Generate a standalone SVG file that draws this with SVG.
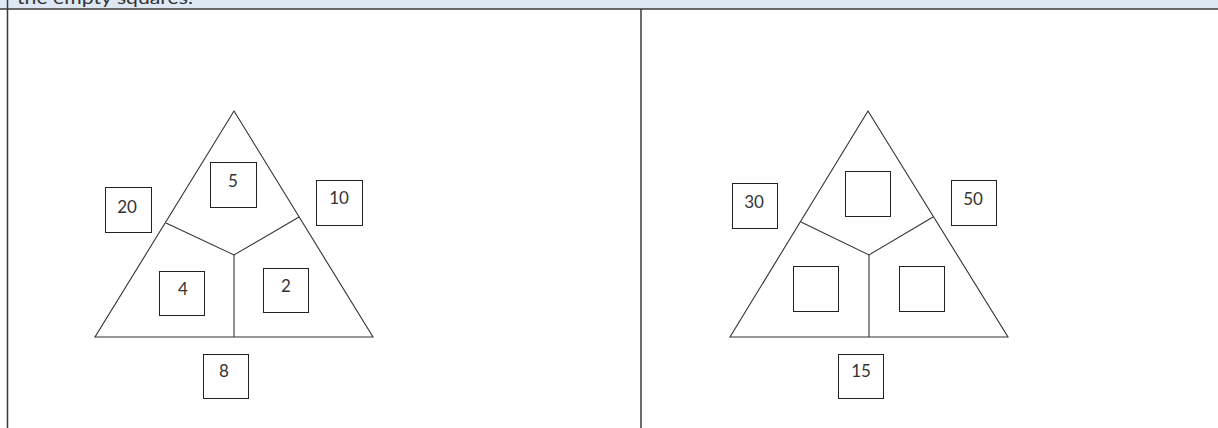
<svg xmlns="http://www.w3.org/2000/svg" width="1218" height="428" viewBox="0 0 1218 428">
<style>
.tri{fill:none;stroke:#333;stroke-width:1.1}
.box{fill:#fff;stroke:#222;stroke-width:1}
.num{font-family:"Lato","Noto Sans",sans-serif;font-size:17px;fill:#333;text-anchor:middle}
.hdr{font-family:"Lato","Noto Sans",sans-serif;font-size:18px;fill:#333}
.frame{stroke:#3a3a3a;stroke-width:1.5;fill:none}
</style>
<rect x="0" y="0" width="1218" height="428" fill="#fff"/>
<rect x="0" y="0" width="1218" height="9" fill="#dde8f4"/>
<text class="hdr" x="17" y="4" textLength="176" lengthAdjust="spacingAndGlyphs">the empty squares.</text>
<g id="frame">
<line class="frame" x1="7.5" y1="0" x2="7.5" y2="428"/>
<line class="frame" x1="0" y1="9" x2="1218" y2="9"/>
<line class="frame" x1="641" y1="9" x2="641" y2="428"/>
</g>
<g id="connectors">
<polygon class="tri" points="234,111 95,337 373,337"/>
<polyline class="tri" points="166,223 234,255 299,217"/>
<line class="tri" x1="234" y1="255" x2="234" y2="337"/>
<polygon class="tri" points="868,111 730,337 1008,337"/>
<polyline class="tri" points="801,222 869,255 933,217"/>
<line class="tri" x1="869" y1="255" x2="869" y2="337"/>
</g>
<g id="n5"><rect class="box" x="210.5" y="162.5" width="46" height="45"/><text class="num" x="233" y="187">5</text></g>
<g id="n20"><rect class="box" x="105.5" y="187.5" width="46" height="45"/><text class="num" x="127" y="213">20</text></g>
<g id="n10"><rect class="box" x="316.5" y="180.5" width="46" height="45"/><text class="num" x="339" y="204">10</text></g>
<g id="n4"><rect class="box" x="159.5" y="271.5" width="45" height="44"/><text class="num" x="183" y="295">4</text></g>
<g id="n2"><rect class="box" x="263.5" y="268.5" width="45" height="44"/><text class="num" x="286" y="292">2</text></g>
<g id="n8"><rect class="box" x="203.5" y="354.5" width="45" height="44"/><text class="num" x="224" y="377">8</text></g>
<g id="m-top"><rect class="box" x="845.5" y="171.5" width="45" height="45"/></g>
<g id="n30"><rect class="box" x="732.5" y="183.5" width="45" height="45"/><text class="num" x="754" y="208">30</text></g>
<g id="n50"><rect class="box" x="951.5" y="180.5" width="45" height="45"/><text class="num" x="973" y="205">50</text></g>
<g id="m-left"><rect class="box" x="793.5" y="266.5" width="45" height="45"/></g>
<g id="m-right"><rect class="box" x="899.5" y="266.5" width="45" height="45"/></g>
<g id="n15"><rect class="box" x="838.5" y="354.5" width="45" height="44"/><text class="num" x="861" y="377">15</text></g>
</svg>
